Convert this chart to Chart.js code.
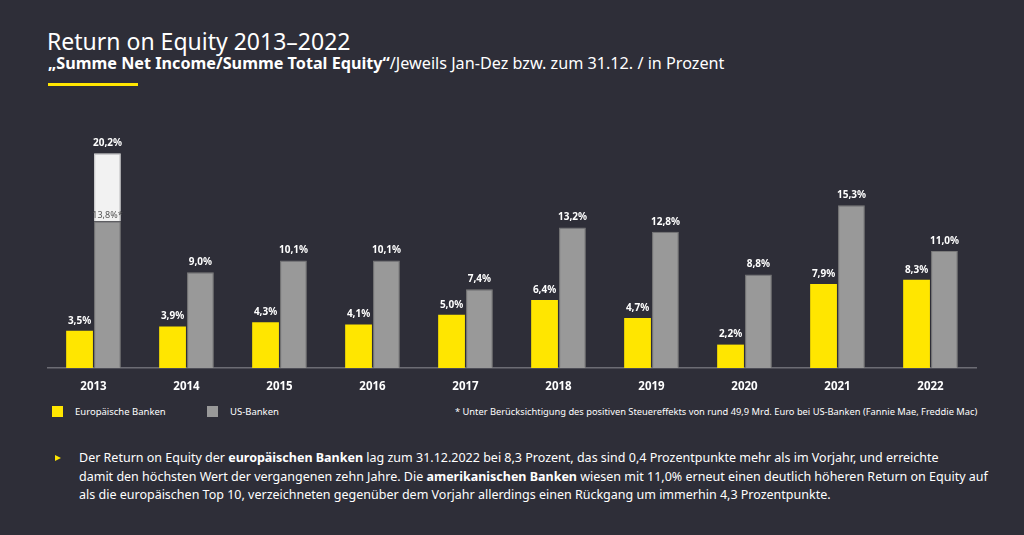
<!DOCTYPE html>
<html lang="de">
<head>
<meta charset="utf-8">
<script src="https://cdn.jsdelivr.net/npm/chart.js@4/dist/chart.umd.min.js"></script>
<style>
  html, body { margin: 0; padding: 0; }
  body { width: 1024px; height: 535px; background: #2e2e38; color: #fff; font-family: "Noto Sans", sans-serif; position: relative; overflow: hidden; }
  .titel { position: absolute; left: 47px; top: 25px; font-size: 23px; font-weight: 400; white-space: nowrap; }
  .untertitel { position: absolute; left: 48px; top: 52px; font-size: 16.2px; white-space: nowrap; }
  .strich { position: absolute; left: 48px; top: 83px; width: 90px; height: 3px; background: #ffe600; }
  #wrap { position: absolute; left: 47px; top: 100px; width: 930px; height: 290px; }
  .legende { position: absolute; top: 405px; font-size: 9.5px; white-space: nowrap; }
  .legende span.box { display: inline-block; width: 11px; height: 11px; vertical-align: -2px; margin-right: 12px; }
  .fussnote { position: absolute; left: 455px; top: 405px; font-size: 9.3px; white-space: nowrap; }
  .text { position: absolute; left: 79px; top: 449px; font-size: 12.5px; line-height: 18.5px; white-space: nowrap; }
  .pfeil { position: absolute; left: 55px; top: 455px; width: 0; height: 0; border-top: 3.5px solid transparent; border-bottom: 3.5px solid transparent; border-left: 6px solid #ffe600; }
</style>
</head>
<body>
<div class="titel">Return on Equity 2013–2022</div>
<div class="untertitel"><b>„Summe Net Income/Summe Total Equity“</b>/Jeweils Jan-Dez bzw. zum 31.12. / in Prozent</div>
<div class="strich"></div>
<div id="wrap"><canvas id="roeChart"></canvas></div>
<div class="legende" style="left:52px"><span class="box" style="background:#ffe600"></span>Europäische Banken</div>
<div class="legende" style="left:207px"><span class="box" style="background:#999999"></span>US-Banken</div>
<div class="fussnote">* Unter Berücksichtigung des positiven Steuereffekts von rund 49,9 Mrd. Euro bei US-Banken (Fannie Mae, Freddie Mac)</div>
<div class="pfeil"></div>
<div class="text">Der Return on Equity der <b>europäischen Banken</b> lag zum 31.12.2022 bei 8,3 Prozent, das sind 0,4 Prozentpunkte mehr als im Vorjahr, und erreichte<br>damit den höchsten Wert der vergangenen zehn Jahre. Die <b>amerikanischen Banken</b> wiesen mit 11,0% erneut einen deutlich höheren Return on Equity auf<br>als die europäischen Top 10, verzeichneten gegenüber dem Vorjahr allerdings einen Rückgang um immerhin 4,3 Prozentpunkte.</div>
<script>
const jahre = ["2013", "2014", "2015", "2016", "2017", "2018", "2019", "2020", "2021", "2022"];
const euBanken = [3.5, 3.9, 4.3, 4.1, 5.0, 6.4, 4.7, 2.2, 7.9, 8.3];
const usBanken = [13.8, 9.0, 10.1, 10.1, 7.4, 13.2, 12.8, 8.8, 15.3, 11.0];
// Steuereffekt 2013 (13,8% -> 20,2%)
const usSteuereffekt = [6.4, null, null, null, null, null, null, null, null, null];
const usGesamt2013 = 20.2;

const fmt = v => v.toFixed(1).replace(".", ",") + "%";

const wertLabels = {
    id: "wertLabels",
    afterDatasetsDraw(chart) {
        const c = chart.ctx;
        c.save();
        c.textAlign = "center";
        c.textBaseline = "bottom";
        c.font = "bold 10px 'Noto Sans', sans-serif";
        c.fillStyle = "#ffffff";

        chart.getDatasetMeta(0).data.forEach((bar, i) => {
            c.fillText(fmt(euBanken[i]), bar.x, bar.y - 5);
        });

        chart.getDatasetMeta(1).data.forEach((bar, i) => {
            if (usSteuereffekt[i] !== null) {
                c.font = "9px 'Noto Sans', sans-serif";
                c.fillStyle = "#555555";
                c.fillText(fmt(usBanken[i]) + "*", bar.x, bar.y - 1);
                c.font = "bold 10px 'Noto Sans', sans-serif";
                c.fillStyle = "#ffffff";
                const oben = chart.getDatasetMeta(2).data[i];
                c.fillText(fmt(usGesamt2013), oben.x, oben.y - 5);
            } else {
                c.fillText(fmt(usBanken[i]), bar.x, bar.y - 5);
            }
        });
        c.restore();
    }
};

const ctx = document.getElementById("roeChart").getContext("2d");
const roeChart = new Chart(ctx, {
    type: "bar",
    data: {
        labels: jahre,
        datasets: [
            { label: "Europäische Banken", data: euBanken, backgroundColor: "#ffe600", stack: "eu" },
            { label: "US-Banken", data: usBanken, backgroundColor: "#999999", borderColor: "#7a7a7a", borderWidth: 1, stack: "us" },
            { label: "Steuereffekt", data: usSteuereffekt, backgroundColor: "#f2f2f2", borderColor: "#dddddd", borderWidth: 1, stack: "us" }
        ]
    },
    options: {
        responsive: true,
        maintainAspectRatio: false,
        animation: false,
        categoryPercentage: 0.6,
        barPercentage: 0.96,
        layout: { padding: 0 },
        plugins: { legend: { display: false }, tooltip: { enabled: false } },
        scales: {
            x: {
                stacked: true,
                grid: { display: false },
                border: { display: true, color: "#6c6c74", width: 1.5 },
                ticks: { color: "#ffffff", font: { family: "'Noto Sans', sans-serif", size: 11.5, weight: "bold" }, padding: 4 },
                afterFit(scale) { scale.height = 22; }
            },
            y: {
                stacked: true,
                display: false,
                min: 0,
                max: 25.2
            }
        }
    },
    plugins: [wertLabels]
});
</script>
</body>
</html>
